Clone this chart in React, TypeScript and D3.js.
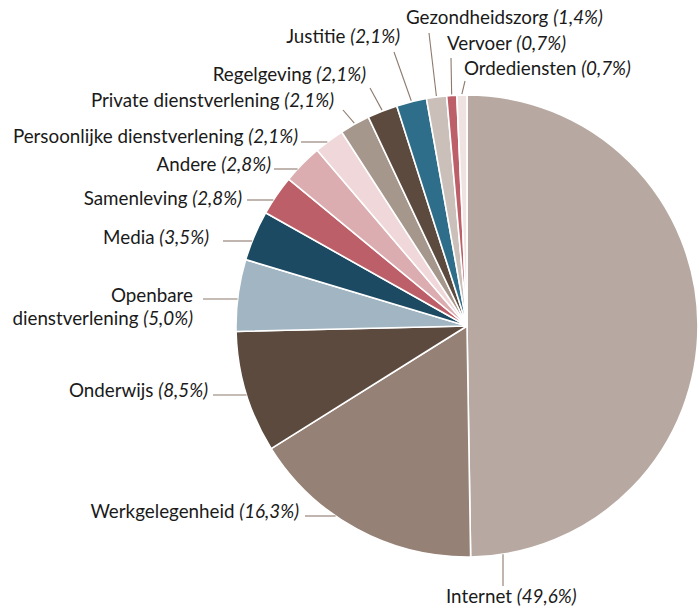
import React from "react";
import * as d3 from "d3";

const categories = [
  "Internet",
  "Werkgelegenheid",
  "Onderwijs",
  "Openbare\ndienstverlening",
  "Media",
  "Samenleving",
  "Andere",
  "Persoonlijke dienstverlening",
  "Private dienstverlening",
  "Regelgeving",
  "Justitie",
  "Gezondheidszorg",
  "Vervoer",
  "Ordediensten",
];
const values = [49.6, 16.3, 8.5, 5.0, 3.5, 2.8, 2.8, 2.1, 2.1, 2.1, 2.1, 1.4, 0.7, 0.7];
const colors = [
  "#b7a9a1", "#958175", "#5b4a3d", "#a2b5c2", "#1b4a62", "#bd5f68", "#dcadb0",
  "#f0d7d9", "#a6978d", "#5b4a3d", "#2f6e8a", "#cbbfb9", "#bd5f68", "#efe3e2",
];

type Lay = { x: number; y: number; anchor: "start" | "end"; lx: number; ly: number; kind: "h" | "v" | "mid" };
const layout: Lay[] = [
  { x: 446, y: 603, anchor: "start", lx: 503, ly: 586, kind: "v" },
  { x: 299, y: 518, anchor: "end", lx: 305, ly: 516, kind: "h" },
  { x: 208, y: 397, anchor: "end", lx: 213, ly: 395, kind: "h" },
  { x: 193, y: 302, anchor: "end", lx: 203, ly: 299, kind: "h" },
  { x: 209, y: 244, anchor: "end", lx: 223, ly: 241, kind: "h" },
  { x: 242, y: 205, anchor: "end", lx: 247, ly: 200, kind: "h" },
  { x: 271, y: 171, anchor: "end", lx: 274, ly: 169, kind: "h" },
  { x: 298, y: 143, anchor: "end", lx: 301, ly: 142, kind: "h" },
  { x: 334, y: 107, anchor: "end", lx: 343, ly: 110, kind: "mid" },
  { x: 366, y: 81, anchor: "end", lx: 370, ly: 88, kind: "mid" },
  { x: 400, y: 43, anchor: "end", lx: 394, ly: 52, kind: "mid" },
  { x: 406, y: 24, anchor: "start", lx: 429, ly: 33, kind: "mid" },
  { x: 447, y: 50, anchor: "start", lx: 451, ly: 58, kind: "mid" },
  { x: 464, y: 75, anchor: "start", lx: 465, ly: 81, kind: "mid" },
];

const W = 699;
const H = 610;
const cx = 467;
const cy = 326;
const R = 231;
const FONT = "Lato, sans-serif";
const LINE = "#8c7a6e";

const fmt = (v: number) => "(" + d3.format(".1f")(v).replace(".", ",") + "%)";

export default function App() {
  const data = categories.map((c, i) => ({ name: c, value: values[i], color: colors[i] }));
  const pie = d3.pie<any>().sort(null).value((d) => d.value);
  const arcs = pie(data);
  const arc = d3.arc<any>().innerRadius(0).outerRadius(R);

  return (
    <svg width={W} height={H} style={{ position: "absolute", left: 0, top: 0, background: "#fff" }}>
      <g transform={`translate(${cx},${cy})`}>
        {arcs.map((a, i) => (
          <path key={i} d={arc(a) || ""} fill={a.data.color} stroke="#fff" strokeWidth={1.6} strokeLinejoin="round" />
        ))}
      </g>
      {arcs.map((a, i) => {
        const L = layout[i];
        let ex = 0, ey = 0;
        if (L.kind === "h") {
          const dy = L.ly - cy;
          ex = cx - Math.sqrt(R * R - dy * dy);
          ey = L.ly;
        } else if (L.kind === "v") {
          const dx = L.lx - cx;
          ex = L.lx;
          ey = cy + Math.sqrt(R * R - dx * dx);
        } else {
          const m = (a.startAngle + a.endAngle) / 2;
          ex = cx + (R + 1) * Math.sin(m);
          ey = cy - (R + 1) * Math.cos(m);
        }
        const lines = (a.data.name as string).split("\n");
        return (
          <g key={i}>
            <line x1={L.lx} y1={L.ly} x2={ex} y2={ey} stroke={LINE} strokeWidth={1.1} />
            {lines.map((ln, j) => (
              <text
                key={j}
                x={L.x}
                y={L.y + j * 23}
                textAnchor={L.anchor}
                style={{ fontFamily: FONT, fontSize: "18.8px" }}
                fill="#1a1a1a"
              >
                {ln}
                {j === lines.length - 1 ? (
                  <>
                    {" "}
                    <tspan style={{ fontStyle: "italic" }}>{fmt(a.data.value)}</tspan>
                  </>
                ) : null}
              </text>
            ))}
          </g>
        );
      })}
    </svg>
  );
}
